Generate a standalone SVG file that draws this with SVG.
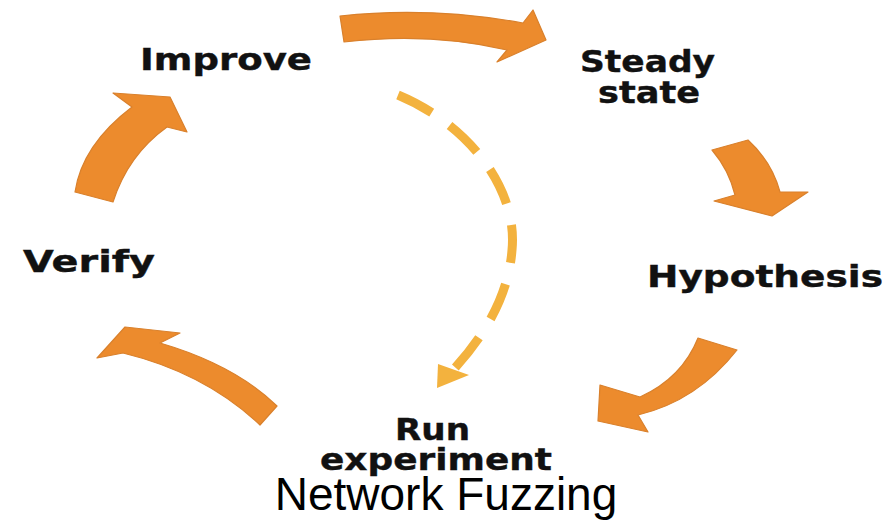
<svg xmlns="http://www.w3.org/2000/svg" width="891" height="522" viewBox="0 0 891 522">
<style>
.arr{fill:#EC8B2D;stroke:#D9802C;stroke-width:1.2;stroke-linejoin:round}
.lbl{font-family:"DejaVu Sans",Verdana,sans-serif;font-weight:bold;font-size:30px;fill:#111;stroke:#111;stroke-width:0.4}
.title{font-family:"Liberation Sans",Arial,sans-serif;font-size:46px;fill:#000}
.dash{fill:none;stroke:#F3B23E;stroke-width:9;stroke-dasharray:38 22}
</style>
<rect width="891" height="522" fill="#fff"/>
<g id="connectors">
<path id="a-improve-steady" class="arr" d="M340,16 Q430,6 523,23 L533,10 L546,40 L497,62 L507,50 Q430,32 344,42 Z"/>
<path id="a-steady-hyp" class="arr" d="M712,150 L748,140 Q772,162 780,192 L808,192 L772,216 L714,201 L735,195 Q729,170 712,150 Z"/>
<path id="a-hyp-run" class="arr" d="M698,338 Q682,378 640,397 L600,385 L598,421 L648,432 L638,415 Q697,401 737,350 Z"/>
<path id="a-run-verify" class="arr" d="M277,406 Q235,365 160,343 L180,333 L125,327 L97,358 L123,353 Q205,373 260,425 Z"/>
<path id="a-verify-improve" class="arr" d="M75,192 Q82,145 132,107 L113,93 L170,97 L187,132 L167,127 Q128,155 113,202 Z"/>
<g id="a-dashed">
<path class="dash" d="M398,95 C470,125 518,190 512,250 C509,290 490,330 453,370"/>
<polygon points="438,364 469,375 437,388" fill="#F3B23E"/>
</g>
</g>
<g id="n-improve"><text class="lbl" x="140" y="70" textLength="172" lengthAdjust="spacingAndGlyphs">Improve</text></g>
<g id="n-steady"><text class="lbl" x="580" y="72" textLength="135" lengthAdjust="spacingAndGlyphs">Steady</text><text class="lbl" x="598" y="103" textLength="102" lengthAdjust="spacingAndGlyphs">state</text></g>
<g id="n-hypothesis"><text class="lbl" x="647" y="287" textLength="236" lengthAdjust="spacingAndGlyphs">Hypothesis</text></g>
<g id="n-verify"><text class="lbl" x="23" y="272" textLength="132" lengthAdjust="spacingAndGlyphs">Verify</text></g>
<g id="n-run"><text class="lbl" x="395" y="440" textLength="75" lengthAdjust="spacingAndGlyphs">Run</text><text class="lbl" x="320" y="470" textLength="232" lengthAdjust="spacingAndGlyphs">experiment</text></g>
<g id="title"><text class="title" x="446" y="510" text-anchor="middle">Network Fuzzing</text></g>
</svg>
